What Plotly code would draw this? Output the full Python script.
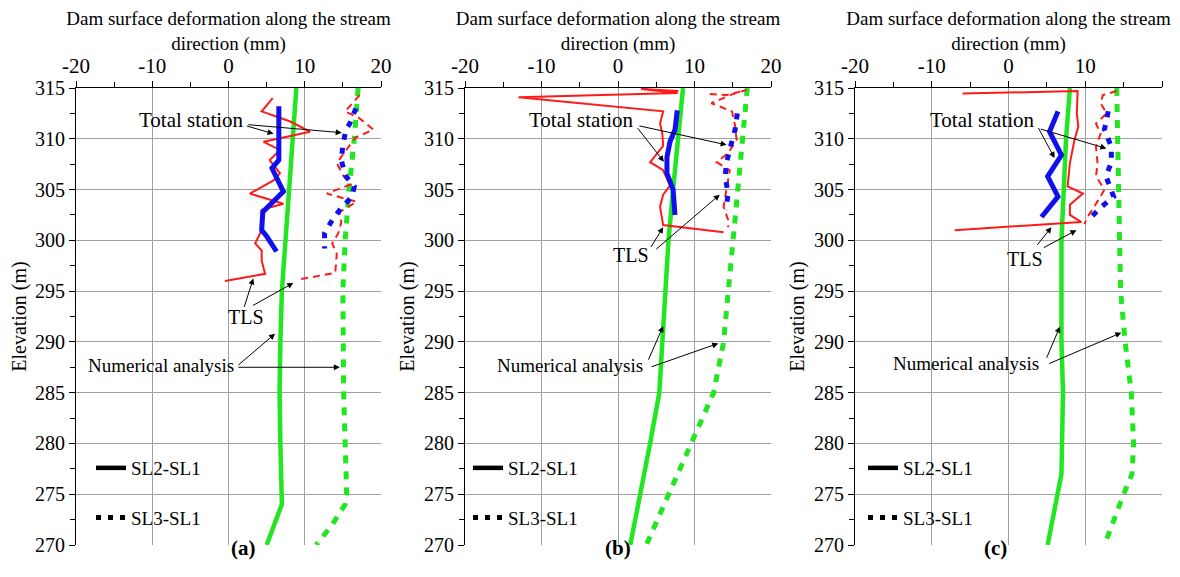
import plotly.graph_objects as go

# ---------------- data ----------------
# Panel (a)
a_num2_elev = [315, 310, 305, 300, 295, 290, 285, 280, 275, 274, 270]
a_num2_x = [8.9, 8.4, 7.9, 7.4, 7.0, 6.8, 6.7, 6.8, 6.9, 7.0, 5.0]
a_num3_elev = [315, 310, 305, 300, 295, 290, 285, 280, 275, 274, 272, 270]
a_num3_x = [17.0, 16.5, 15.8, 15.3, 15.0, 15.0, 15.1, 15.3, 15.5, 15.3, 13.6, 11.5]
a_ts2_elev = [313.2, 309.9, 307.9, 307.1, 305.9, 304.8, 302.8, 301.0, 300.4, 298.9]
a_ts2_x = [6.6, 6.5, 6.6, 5.7, 6.5, 7.2, 4.5, 4.35, 5.0, 6.3]
a_ts3_elev = [313.0, 311.5, 310.9, 309.4, 307.9, 306.4, 305.3, 304.3, 303.2, 302.0, 300.7, 299.2]
a_ts3_x = [16.7, 15.9, 15.4, 15.0, 14.8, 15.3, 16.5, 16.2, 14.8, 13.6, 12.6, 12.6]
a_tls2_elev = [314.0, 312.7, 311.7, 310.7, 309.7, 308.9, 307.9, 306.6, 305.9, 304.6, 303.6, 303.0,
               301.0, 299.7, 299.0, 298.0, 296.7, 296.0]
a_tls2_x = [5.8, 4.35, 8.1, 10.7, 4.6, 6.75, 5.4, 6.75, 5.9, 2.8, 7.2, 4.35,
            4.35, 3.5, 4.35, 4.35, 4.8, -0.46]
a_tls3_elev = [314.3, 312.7, 312.0, 310.9, 310.1, 309.0, 307.6, 306.4, 305.5, 304.6, 303.8, 302.8,
               301.8, 300.7, 299.7, 298.7, 296.8, 296.1]
a_tls3_x = [17.2, 15.3, 17.2, 19.0, 16.6, 15.5, 14.2, 15.05, 16.0, 12.9, 16.8, 14.6,
            14.8, 14.4, 13.6, 14.2, 14.0, 8.9]

# Panel (b)
b_num2_elev = [315, 310, 305, 300, 295, 290, 285, 280, 275, 270]
b_num2_x = [8.5, 7.8, 7.2, 6.6, 6.2, 5.9, 5.4, 4.2, 2.9, 1.6]
b_num3_elev = [315, 310, 305, 300, 295, 290, 285, 280, 275, 270]
b_num3_x = [16.9, 16.3, 15.7, 15.1, 14.5, 13.8, 12.5, 9.6, 6.6, 3.7]
b_ts2_elev = [312.8, 310.9, 309.7, 308.2, 306.6, 305.0, 302.5]
b_ts2_x = [7.75, 7.45, 6.8, 6.4, 6.4, 7.2, 7.45]
b_ts3_elev = [312.5, 310.9, 309.2, 307.7, 306.3, 304.6, 303.0]
b_ts3_x = [15.6, 15.3, 14.7, 14.2, 14.0, 14.4, 14.1]
b_tls2_elev = [314.7, 314.9, 314.5, 314.1, 312.7, 311.5, 310.5, 309.3, 307.7, 306.9, 305.4,
               304.5, 303.3, 301.5, 300.8]
b_tls2_x = [7.9, 3.0, 7.8, -13.0, 5.9, 5.5, 5.8, 5.9, 4.2, 5.9, 6.8,
            5.9, 5.5, 5.9, 13.8]
b_tls3_elev = [314.4, 314.3, 314.8, 314.4, 313.5, 312.7, 311.3, 309.9, 308.6, 307.7, 306.9,
               305.0, 303.3, 302.0, 301.3]
b_tls3_x = [12.0, 14.2, 16.8, 15.0, 12.2, 14.9, 15.3, 15.5, 14.4, 12.9, 14.6,
            14.2, 13.8, 14.4, 14.4]

# Panel (c)
c_num2_elev = [315, 310, 305, 300, 295, 290, 285, 280, 277, 270]
c_num2_x = [8.0, 7.5, 7.2, 6.9, 6.9, 6.9, 7.1, 7.0, 6.9, 5.1]
c_num3_elev = [315, 310, 305, 300, 295, 290, 285, 280, 277, 275, 270]
c_num3_x = [14.1, 14.2, 14.3, 14.5, 14.6, 15.2, 16.0, 16.3, 16.1, 15.0, 12.5]
c_ts2_elev = [312.7, 310.7, 308.4, 306.3, 304.3, 302.3]
c_ts2_x = [6.45, 5.35, 6.9, 5.1, 6.45, 4.3]
c_ts3_elev = [312.7, 310.9, 309.2, 307.7, 306.3, 305.0, 304.3, 303.3, 302.3]
c_ts3_x = [13.0, 12.5, 13.4, 13.4, 12.7, 13.4, 13.7, 12.1, 10.8]
c_tls2_elev = [314.45, 314.7, 314.4, 312.5, 311.2, 309.9, 307.6, 305.3, 304.6, 303.5, 302.5,
               301.8, 301.0]
c_tls2_x = [-6.0, 9.0, 9.0, 8.9, 9.1, 8.6, 8.0, 7.7, 9.7, 8.0, 8.0, 9.5, -7.0]
c_tls3_elev = [314.7, 314.3, 313.5, 312.5, 311.5, 310.5, 309.2, 307.6, 306.3, 305.0, 303.6,
               302.3, 301.6]
c_tls3_x = [14.1, 12.3, 12.0, 12.8, 11.4, 12.0, 11.4, 11.6, 11.4, 12.5, 11.4, 10.3, 9.9]

x_ticks = [-20, -10, 0, 10, 20]
x_tick_labels = ["-20", "-10", "0", "10", "20"]
y_ticks = [270, 275, 280, 285, 290, 295, 300, 305, 310, 315]
panel_labels = ["(a)", "(b)", "(c)"]
legend_names = ["SL2-SL1", "SL3-SL1"]
x_title = "Dam surface deformation along the stream<br>direction (mm)"
y_title = "Elevation (m)"

panels = [
    dict(num2=(a_num2_x, a_num2_elev), num3=(a_num3_x, a_num3_elev), ts2=(a_ts2_x, a_ts2_elev),
         ts3=(a_ts3_x, a_ts3_elev), tls2=(a_tls2_x, a_tls2_elev), tls3=(a_tls3_x, a_tls3_elev)),
    dict(num2=(b_num2_x, b_num2_elev), num3=(b_num3_x, b_num3_elev), ts2=(b_ts2_x, b_ts2_elev),
         ts3=(b_ts3_x, b_ts3_elev), tls2=(b_tls2_x, b_tls2_elev), tls3=(b_tls3_x, b_tls3_elev)),
    dict(num2=(c_num2_x, c_num2_elev), num3=(c_num3_x, c_num3_elev), ts2=(c_ts2_x, c_ts2_elev),
         ts3=(c_ts3_x, c_ts3_elev), tls2=(c_tls2_x, c_tls2_elev), tls3=(c_tls3_x, c_tls3_elev)),
]

# ---------------- styles / layout ----------------
OFF = 8                      # page body margin in the browser
W, H = 1180 - 2 * OFF, 577 - 2 * OFF
FONT = "Liberation Serif, Times New Roman, serif"
GREEN = "#22e622"
BLUE = "#1010ee"
RED = "#ff1a1a"

# screen-pixel positions of the plot areas
x_domains_px = [(76, 381), (465, 771), (855, 1162)]
y_top_px, y_bot_px = 88, 545

styles = {
    "num2": dict(color=GREEN, width=4.5, dash="solid"),
    "num3": dict(color=GREEN, width=5, dash="8px,8px"),
    "ts2": dict(color=BLUE, width=5, dash="solid"),
    "ts3": dict(color=BLUE, width=5, dash="6px,8px"),
    "tls2": dict(color=RED, width=2, dash="solid"),
    "tls3": dict(color=RED, width=2, dash="7px,5px"),
}
order = ["num2", "num3", "tls2", "tls3", "ts2", "ts3"]

fig = go.Figure()

ann_pos = [
    dict(ts_text=(-4.9, 311.85), ts_arrows=[(5.9, 310.5, 2.2, 311.3), (14.85, 310.6, 2.4, 311.4)],
         tls_text=(2.25, 292.5), tls_arrows=[(3.25, 296.25, 2.0, 293.3), (8.5, 295.8, 3.0, 293.5)],
         na_text=(-8.8, 287.7), na_arrows=[(6.1, 290.8, 1.1, 287.6), (14.6, 287.5, 1.1, 287.5)],
         legend_x=98),
    dict(ts_text=(-4.75, 311.85), ts_arrows=[(6.0, 307.75, 2.4, 311.2), (14.2, 309.4, 2.6, 311.3)],
         tls_text=(1.66, 298.55), tls_arrows=[(5.9, 301.3, 4.2, 299.2), (13.3, 304.5, 4.8, 299.0)],
         na_text=(-6.3, 287.7), na_arrows=[(5.9, 291.55, 3.9, 288.1), (13.1, 289.85, 4.2, 287.5)],
         legend_x=475),
    dict(ts_text=(-3.35, 311.85), ts_arrows=[(6.0, 308.1, 3.8, 311.2), (12.75, 309.05, 4.0, 311.0)],
         tls_text=(2.1, 298.2), tls_arrows=[(5.6, 301.3, 3.6, 299.4), (8.85, 301.0, 4.4, 299.2)],
         na_text=(-5.5, 287.9), na_arrows=[(6.7, 291.5, 4.9, 288.3), (14.7, 290.9, 5.1, 287.8)],
         legend_x=870),
]

annotations = []
for i, p in enumerate(panels):
    xa = "x" if i == 0 else f"x{i+1}"
    ya = "y" if i == 0 else f"y{i+1}"
    leg = "legend" if i == 0 else f"legend{i+1}"
    for key in order:
        xs, ys = p[key]
        st = styles[key]
        fig.add_trace(go.Scatter(x=xs, y=ys, mode="lines", xaxis=xa, yaxis=ya,
                                 line=dict(color=st["color"], width=st["width"], dash=st["dash"]),
                                 showlegend=False, hoverinfo="skip"))
    for j, name in enumerate(legend_names):
        fig.add_trace(go.Scatter(x=[None], y=[None], mode="lines", xaxis=xa, yaxis=ya,
                                 name=name, legend=leg, legendgroup=f"g{j}",
                                 line=dict(color="black", width=4.5 if j == 0 else 5,
                                           dash="solid" if j == 0 else "5px,7px"),
                                 showlegend=True))

    ap = ann_pos[i]
    annotations.append(dict(text="Total station", x=ap["ts_text"][0], y=ap["ts_text"][1],
                            xref=xa, yref=ya, showarrow=False,
                            font=dict(family=FONT, size=21, color="black")))
    annotations.append(dict(text="TLS", x=ap["tls_text"][0], y=ap["tls_text"][1],
                            xref=xa, yref=ya, showarrow=False,
                            font=dict(family=FONT, size=20, color="black")))
    annotations.append(dict(text="Numerical analysis", x=ap["na_text"][0], y=ap["na_text"][1],
                            xref=xa, yref=ya, showarrow=False,
                            font=dict(family=FONT, size=19, color="black")))
    for arrs in (ap["ts_arrows"], ap["tls_arrows"], ap["na_arrows"]):
        for hx, hy, tx, ty in arrs:
            annotations.append(dict(text="", x=hx, y=hy, ax=tx, ay=ty, xref=xa, yref=ya,
                                    axref=xa, ayref=ya, showarrow=True, arrowhead=2,
                                    arrowsize=1.2, arrowwidth=1, arrowcolor="black"))
    x0, x1 = x_domains_px[i]
    annotations.append(dict(text=f"<b>{panel_labels[i]}</b>", xref="paper", yref="paper",
                            x=((x0 + x1) / 2 - OFF) / W, y=1 - (562 - OFF) / H, showarrow=False,
                            font=dict(family=FONT, size=21, color="black")))

layout = dict(
    width=W, height=H,
    margin=dict(l=0, r=0, t=0, b=0),
    paper_bgcolor="white", plot_bgcolor="white",
    font=dict(family=FONT, size=19, color="black"),
    annotations=annotations,
    showlegend=True,
)

for i in range(3):
    sfx = "" if i == 0 else str(i + 1)
    x0, x1 = x_domains_px[i]
    layout["xaxis" + sfx] = dict(
        domain=[(x0 - OFF) / W, (x1 - OFF) / W], anchor="y" + sfx, side="top",
        range=[-20, 20], tickvals=x_ticks, ticktext=x_tick_labels,
        ticks="outside", ticklen=6, tickcolor="black",
        showline=True, linecolor="black", linewidth=1,
        showgrid=True, gridcolor="#a0a0a0", gridwidth=1, zeroline=False,
        minor=dict(dtick=5, tick0=0, ticks="outside", ticklen=5, tickcolor="black", showgrid=False),
        tickfont=dict(family=FONT, size=21, color="black"),
        title=dict(text=x_title, font=dict(family=FONT, size=19, color="black"), standoff=3),
        automargin=False, fixedrange=True,
    )
    layout["yaxis" + sfx] = dict(
        domain=[1 - (y_bot_px - OFF) / H, 1 - (y_top_px - OFF) / H], anchor="x" + sfx,
        range=[270, 315], tickvals=y_ticks, ticks="outside", ticklen=6, tickcolor="black",
        showline=True, linecolor="black", linewidth=1,
        showgrid=True, gridcolor="#a0a0a0", gridwidth=1, zeroline=False,
        minor=dict(dtick=2.5, tick0=270, ticks="outside", ticklen=5, tickcolor="black", showgrid=False),
        tickfont=dict(family=FONT, size=20, color="black"),
        title=dict(text=y_title, font=dict(family=FONT, size=20, color="black"), standoff=4),
        automargin=False, fixedrange=True,
    )
    leg = "legend" + sfx
    layout[leg] = dict(
        x=(ann_pos[i]["legend_x"] - OFF - 7) / W, xanchor="left",
        y=1 - (449 - OFF) / H, yanchor="top",
        bgcolor="rgba(0,0,0,0)", borderwidth=0, tracegroupgap=22,
        font=dict(family=FONT, size=19, color="black"),
        itemwidth=30,
    )

fig.update_layout(**layout)
fig.write_html("out.html")
